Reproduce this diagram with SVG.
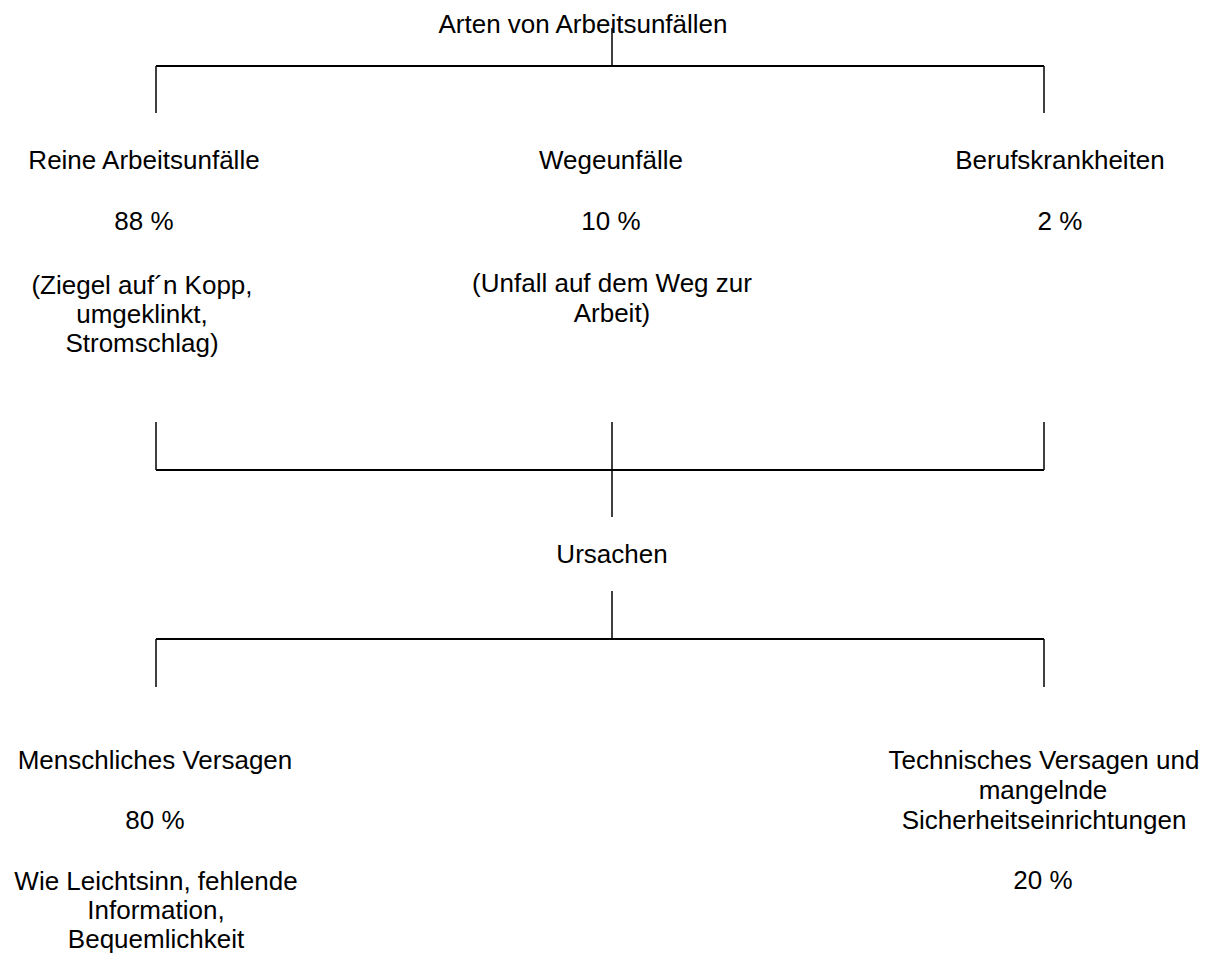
<svg xmlns="http://www.w3.org/2000/svg" width="1216" height="957" viewBox="0 0 1216 957">
<style>
  text { font-family: "Liberation Sans", Arial, sans-serif; font-size: 26px; fill: #000; text-anchor: middle; }
  .h { stroke: #000; stroke-width: 2; fill: none; }
  .v { stroke: #000; stroke-width: 1.5; fill: none; }
</style>
<rect width="1216" height="957" fill="#fff"/>
<g id="connectors">
  <line class="v" x1="612" y1="28" x2="612" y2="66"/>
  <line class="h" x1="156" y1="66" x2="1044" y2="66"/>
  <line class="v" x1="156" y1="66" x2="156" y2="113"/>
  <line class="v" x1="1044" y1="66" x2="1044" y2="113"/>
  <line class="v" x1="156" y1="422" x2="156" y2="470"/>
  <line class="v" x1="612" y1="422" x2="612" y2="470"/>
  <line class="v" x1="1044" y1="422" x2="1044" y2="470"/>
  <line class="h" x1="156" y1="470" x2="1044" y2="470"/>
  <line class="v" x1="612" y1="470" x2="612" y2="517"/>
  <line class="v" x1="612" y1="591" x2="612" y2="639"/>
  <line class="h" x1="156" y1="639" x2="1044" y2="639"/>
  <line class="v" x1="156" y1="639" x2="156" y2="687"/>
  <line class="v" x1="1044" y1="639" x2="1044" y2="687"/>
</g>
<g id="title">
  <text x="583" y="33">Arten von Arbeitsunfällen</text>
</g>
<g id="reine">
  <text x="144" y="169">Reine Arbeitsunfälle</text>
  <text x="144" y="230">88 %</text>
  <text x="142" y="294">(Ziegel auf´n Kopp,</text>
  <text x="142" y="323">umgeklinkt,</text>
  <text x="142" y="352">Stromschlag)</text>
</g>
<g id="wege">
  <text x="611" y="169">Wegeunfälle</text>
  <text x="611" y="230">10 %</text>
  <text x="612" y="292">(Unfall auf dem Weg zur</text>
  <text x="612" y="322">Arbeit)</text>
</g>
<g id="beruf">
  <text x="1060" y="169">Berufskrankheiten</text>
  <text x="1060" y="230">2 %</text>
</g>
<g id="ursachen">
  <text x="612" y="563">Ursachen</text>
</g>
<g id="menschlich">
  <text x="155" y="769">Menschliches Versagen</text>
  <text x="155" y="829">80 %</text>
  <text x="156" y="890">Wie Leichtsinn, fehlende</text>
  <text x="156" y="919">Information,</text>
  <text x="156" y="948">Bequemlichkeit</text>
</g>
<g id="technisch">
  <text x="1044" y="769">Technisches Versagen und</text>
  <text x="1043" y="799">mangelnde</text>
  <text x="1044" y="829">Sicherheitseinrichtungen</text>
  <text x="1043" y="889">20 %</text>
</g>
</svg>
